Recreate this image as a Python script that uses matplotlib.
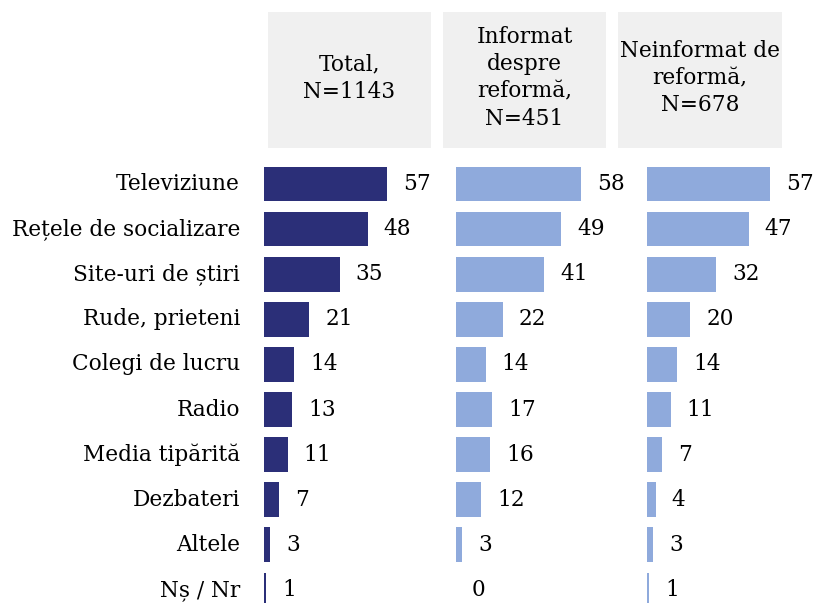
import matplotlib.pyplot as plt
from matplotlib.patches import Rectangle

plt.rcParams['font.family'] = ['DejaVu Serif']

categorii = ["Televiziune", "Rețele de socializare", "Site-uri de știri",
             "Rude, prieteni", "Colegi de lucru", "Radio", "Media tipărită",
             "Dezbateri", "Altele", "Nș / Nr"]

total = [57, 48, 35, 21, 14, 13, 11, 7, 3, 1]
informat = [58, 49, 41, 22, 14, 17, 16, 12, 3, 0]
neinformat = [57, 47, 32, 20, 14, 11, 7, 4, 3, 1]

titluri = ["Total,\nN=1143", "Informat\ndespre\nreformă,\nN=451",
           "Neinformat de\nreformă,\nN=678"]

culori = ["#2b2f78", "#8faadc", "#8faadc"]
serii = [total, informat, neinformat]

W, H = 814, 603
fig = plt.figure(figsize=(W / 100, H / 100), dpi=100)

# pozitii in pixeli: stanga bare, caseta antet (x0, x1)
stanga = [264, 455.5, 647]
casete = [(268, 431), (443, 606), (618, 782)]
px_unit = 2.16  # pixeli per procent
rand0, pas = 184, 45.1
sus, jos = 160, 603

fs = 15.6

for k in range(3):
    x0 = stanga[k]
    latime = 165
    ax = fig.add_axes([x0 / W, 1 - jos / H, latime / W, (jos - sus) / H])
    y = list(range(len(categorii)))
    ax.barh(y, serii[k], height=0.77, color=culori[k])
    ax.set_xlim(0, latime / px_unit)
    ax.set_ylim((jos - rand0) / pas, (sus - rand0) / pas)
    for i, v in enumerate(serii[k]):
        ax.annotate(str(v), (v, i), xytext=(11.5, 0), textcoords="offset points",
                    va="center", ha="left", fontsize=fs, color="#000000")
    ax.axis("off")

    # antet gri
    c0, c1 = casete[k]
    fig.patches.append(Rectangle((c0 / W, 1 - 148 / H), (c1 - c0) / W, 136 / H,
                                 transform=fig.transFigure, facecolor="#f0f0f0",
                                 edgecolor="none", zorder=0))
    fig.text((c0 + c1) / 2 / W, 1 - 78 / H, titluri[k], ha="center", va="center",
             fontsize=fs, linespacing=1.3)

# etichete categorii
for i, c in enumerate(categorii):
    fig.text(240 / W, 1 - (rand0 + pas * i) / H, c, ha="right", va="center",
             fontsize=fs)

fig.savefig("out.png", dpi=100)
